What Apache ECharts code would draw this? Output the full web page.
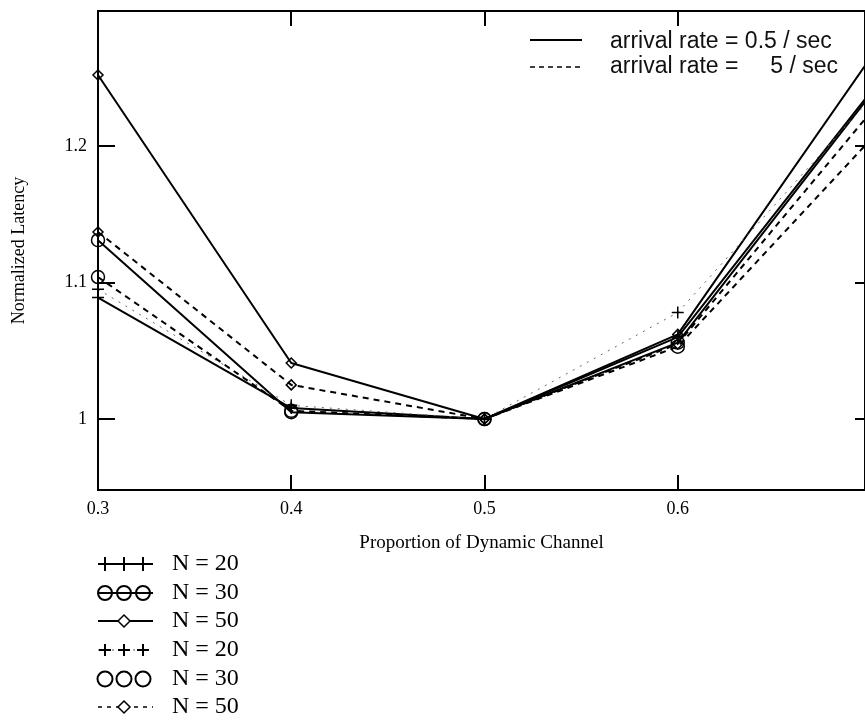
<!DOCTYPE html>
<html>
<head>
<meta charset="utf-8">
<script src="https://cdn.jsdelivr.net/npm/echarts@6/dist/echarts.min.js"></script>
<style>
  html, body { margin: 0; padding: 0; background: #fff; }
  #chart { width: 865px; height: 721px; }
</style>
</head>
<body>
<div id="chart"></div>
<script>
// proportion of dynamic channel
const proportions = [0.3, 0.4, 0.5, 0.6, 0.7];

// arrival rate = 0.5 / sec (solid)
const n20Slow = [1.089, 1.008, 1.0, 1.060, 1.240];
const n30Slow = [1.131, 1.005, 1.0, 1.056, 1.238];
const n50Slow = [1.252, 1.041, 1.0, 1.062, 1.265];

// arrival rate = 5 / sec (dashed)
const n20Fast = [1.095, 1.010, 1.0, 1.078, 1.235];
const n30Fast = [1.104, 1.006, 1.0, 1.053, 1.205];
const n50Fast = [1.137, 1.025, 1.0, 1.055, 1.225];

const xTicks = [0.3, 0.4, 0.5, 0.6];
const yTicks = [1, 1.1, 1.2];

const rateLabels = ['arrival rate = 0.5 / sec', 'arrival rate =    5 / sec'];
const nLabels = ['N = 20', 'N = 30', 'N = 50', 'N = 20', 'N = 30', 'N = 50'];

const SERIF = '"Liberation Serif", "DejaVu Serif", serif';
const SANS = '"Liberation Sans", Arial, sans-serif';
const PLUS = 'path://M5,0L5,10M0,5L10,5';

const pairs = arr => proportions.map((x, i) => [x, arr[i]]);

function makeSeries(name, data, symbol, size, dash, color, width) {
    return {
        name: name,
        type: 'line',
        data: pairs(data),
        symbol: symbol,
        symbolSize: size,
        showAllSymbol: true,
        clip: true,
        lineStyle: { color: color, width: width, type: dash },
        itemStyle: { color: 'transparent', borderColor: '#000', borderWidth: 1.5 },
        emphasis: { disabled: true },
        z: 3
    };
}

// legend glyphs drawn as plain graphics
function plusAt(x, y, r, w) {
    return [
        { type: 'line', shape: { x1: x - r, y1: y, x2: x + r, y2: y }, style: { stroke: '#000', lineWidth: w } },
        { type: 'line', shape: { x1: x, y1: y - r, x2: x, y2: y + r }, style: { stroke: '#000', lineWidth: w } }
    ];
}
function circleAt(x, y, r) {
    return [{ type: 'circle', shape: { cx: x, cy: y, r: r }, style: { fill: 'none', stroke: '#000', lineWidth: 2 } }];
}
function diamondAt(x, y, r) {
    return [{ type: 'polygon', shape: { points: [[x, y - r], [x + r, y], [x, y + r], [x - r, y]] },
        style: { fill: '#fff', stroke: '#000', lineWidth: 1.5 } }];
}
function hLine(x1, x2, y, dash, w, color) {
    return [{ type: 'line', shape: { x1: x1, y1: y, x2: x2, y2: y },
        style: { stroke: color || '#000', lineWidth: w || 2, lineDash: dash } }];
}

const graphics = [];
// top-right legend
graphics.push(...hLine(530, 582, 40, null, 2));
graphics.push(...hLine(530, 582, 67, [5, 4], 1.5));
rateLabels.forEach((t, i) => {
    const y = 42 + i * 25;
    const head = t.split('=')[0] + '=';
    const tail = t.split('=')[1].trim();
    graphics.push({ type: 'text', x: 610, y: y, style: { text: i === 0 ? t : head, font: '23px ' + SANS, fill: '#111', verticalAlign: 'middle' } });
    if (i > 0) {
        graphics.push({ type: 'text', x: 838, y: y, style: { text: tail, font: '23px ' + SANS, fill: '#111', align: 'right', verticalAlign: 'middle' } });
    }
});

// bottom legend
const rowY = [564, 593, 621, 650, 679, 707];
const mx = [105, 124, 143];
graphics.push(...hLine(98, 153, rowY[0], null, 2));
mx.forEach(x => graphics.push(...plusAt(x, rowY[0], 7, 2)));
graphics.push(...hLine(98, 153, rowY[1], null, 2));
mx.forEach(x => graphics.push(...circleAt(x, rowY[1], 7)));
graphics.push(...hLine(98, 153, rowY[2], null, 2));
graphics.push(...diamondAt(124, rowY[2], 6));
graphics.push(...hLine(98, 153, rowY[3], [2, 5], 1, '#555'));
mx.forEach(x => graphics.push(...plusAt(x, rowY[3], 6, 2)));
mx.forEach(x => graphics.push(...circleAt(x, rowY[4], 7.5)));
graphics.push(...hLine(98, 153, rowY[5], [4, 5], 1.5));
graphics.push(...diamondAt(124, rowY[5], 6));
nLabels.forEach((t, i) => {
    graphics.push({ type: 'text', x: 172, y: rowY[i], style: { text: t, font: '24px ' + SERIF, fill: '#000', verticalAlign: 'middle' } });
});

const xMin = 0.3, xMax = 0.6969;
const yMin = 0.948, yMax = 1.2989;

const chart = echarts.init(document.getElementById('chart'), null, { renderer: 'canvas' });
chart.setOption({
    animation: false,
    backgroundColor: '#fff',
    grid: { left: 98, top: 11, right: -3, bottom: 231, show: true, borderColor: '#000', borderWidth: 2, backgroundColor: 'transparent' },
    xAxis: [{
        type: 'value', min: xMin, max: xMax, position: 'bottom',
        name: 'Proportion of Dynamic Channel', nameLocation: 'middle', nameGap: 44,
        nameTextStyle: { fontFamily: SERIF, fontSize: 19, color: '#000' },
        axisLine: { show: false },
        axisTick: { inside: true, length: 15, customValues: xTicks, lineStyle: { color: '#000', width: 2 } },
        axisLabel: { customValues: xTicks, formatter: v => v.toFixed(1), margin: 10, fontFamily: SERIF, fontSize: 18, color: '#000' },
        splitLine: { show: false }
    }, {
        type: 'value', min: xMin, max: xMax, position: 'top',
        axisLine: { show: false },
        axisTick: { inside: true, length: 15, customValues: xTicks.slice(1), lineStyle: { color: '#000', width: 2 } },
        axisLabel: { show: false },
        splitLine: { show: false }
    }],
    yAxis: [{
        type: 'value', min: yMin, max: yMax, position: 'left',
        name: 'Normalized Latency', nameLocation: 'middle', nameGap: 70, nameRotate: 90,
        nameTextStyle: { fontFamily: SERIF, fontSize: 18, color: '#000' },
        axisLine: { show: false },
        axisTick: { inside: true, length: 17, customValues: yTicks, lineStyle: { color: '#000', width: 2 } },
        axisLabel: { customValues: yTicks, formatter: v => String(Math.round(v * 10) / 10), margin: 11, fontFamily: SERIF, fontSize: 18, color: '#000' },
        splitLine: { show: false }
    }, {
        type: 'value', min: yMin, max: yMax, position: 'right',
        axisLine: { show: false },
        axisTick: { inside: true, length: 10, customValues: yTicks, lineStyle: { color: '#000', width: 2 } },
        axisLabel: { show: false },
        splitLine: { show: false }
    }],
    series: [
        makeSeries('N = 20 (0.5/sec)', n20Slow, PLUS, 12, 'solid', '#000', 2),
        makeSeries('N = 30 (0.5/sec)', n30Slow, 'circle', 13, 'solid', '#000', 2),
        makeSeries('N = 50 (0.5/sec)', n50Slow, 'diamond', 10, 'solid', '#000', 2),
        makeSeries('N = 20 (5/sec)', n20Fast, PLUS, 12, [2, 6], '#666', 1),
        makeSeries('N = 30 (5/sec)', n30Fast, 'circle', 13, [6, 5], '#000', 2),
        makeSeries('N = 50 (5/sec)', n50Fast, 'diamond', 10, [6, 5], '#000', 2)
    ],
    graphic: graphics
});
</script>
</body>
</html>
